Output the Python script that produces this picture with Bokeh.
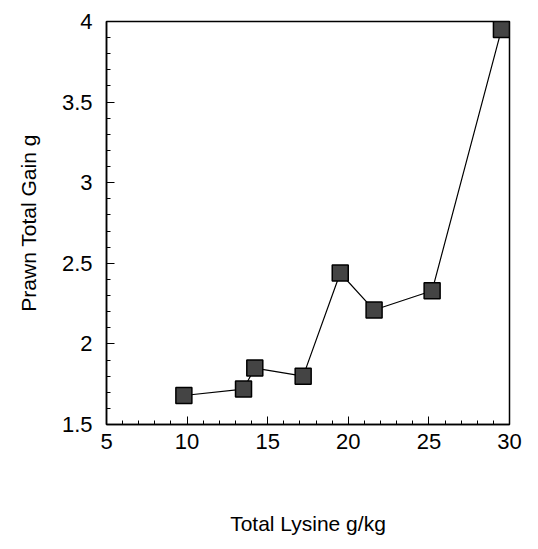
from bokeh.plotting import figure
from bokeh.models import Range1d, FixedTicker
from bokeh.embed import file_html
from bokeh.resources import INLINE

lysine = [9.8, 13.5, 14.2, 17.2, 19.5, 21.6, 25.2, 29.5]
gain = [1.68, 1.72, 1.85, 1.80, 2.44, 2.21, 2.33, 3.95]

x_ticks = [5, 10, 15, 20, 25, 30]
y_ticks = [1.5, 2, 2.5, 3, 3.5, 4]

p = figure(width=522, height=533, output_backend="svg", toolbar_location=None,
           x_range=Range1d(5, 30), y_range=Range1d(1.5, 4),
           min_border_left=106, min_border_right=13, min_border_top=21, min_border_bottom=109)
p.frame_width = 403
p.frame_height = 403
p.grid.visible = False
p.outline_line_color = "black"
p.outline_line_width = 1.5
p.background_fill_color = "white"
p.border_fill_color = "white"

p.xaxis.ticker = FixedTicker(ticks=x_ticks, minor_ticks=list(range(5, 31)))
p.yaxis.ticker = FixedTicker(ticks=y_ticks, minor_ticks=[round(1.5 + 0.1 * i, 2) for i in range(26)])

for ax in [p.xaxis[0], p.yaxis[0]]:
    ax.axis_line_color = "black"
    ax.axis_line_width = 1.5
    ax.major_tick_in = 8
    ax.major_tick_out = 0
    ax.minor_tick_in = 4
    ax.minor_tick_out = 0
    ax.major_label_text_font = "Liberation Sans"
    ax.major_label_text_font_size = "22px"
    ax.major_label_text_color = "black"
    ax.axis_label_text_font = "Liberation Sans"
    ax.axis_label_text_font_size = "21px"
    ax.axis_label_text_font_style = "normal"
    ax.axis_label_text_color = "black"

p.xaxis.axis_label = "Total Lysine g/kg"
p.yaxis.axis_label = "Prawn Total Gain g"
p.xaxis.major_label_standoff = 9
p.xaxis.axis_label_standoff = 60
p.yaxis.major_label_standoff = 14
p.yaxis.axis_label_standoff = 19

p.line(lysine, gain, line_color="black", line_width=1.2)
p.scatter(lysine, gain, marker="square", size=16, fill_color="#444444",
          line_color="black", line_width=1.5)

open("out.html", "w").write(file_html(p, INLINE))
